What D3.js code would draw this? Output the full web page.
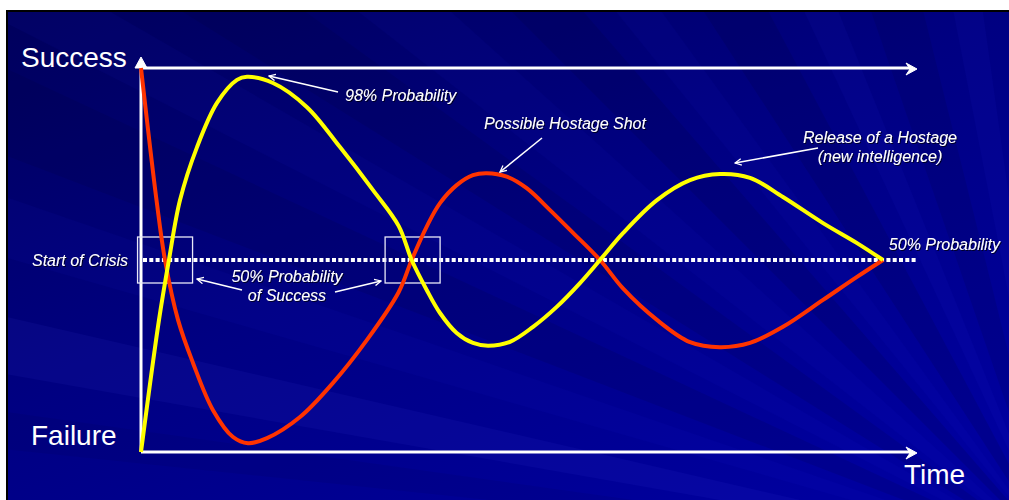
<!DOCTYPE html>
<html><head><meta charset="utf-8">
<script src="https://cdn.jsdelivr.net/npm/d3@7"></script>
<style>
html,body{margin:0;padding:0;background:#fff;}
svg{display:block;}
text{font-family:"Liberation Sans",Arial,sans-serif;fill:#fff;}
</style></head>
<body>
<svg id="c" width="1009" height="500"></svg>
<script>
// ---- data ----
const axisLabels = ["Success", "Failure", "Time"];
const timeDomain = [0, 100];
const probDomain = [0, 100];
const midLevel = 50;

const yellowT = [0, 2.32, 3.6, 5.03, 7.22, 9.79, 12.37, 13.66, 17.01, 21.39, 25.64, 29.9, 33.2, 34.88, 36.82, 38.53, 40.68, 42.78, 44.72, 47.55, 50.52, 53.57, 56.57, 59.15, 62.11, 66.49, 70.75, 74.61, 78.48, 82.73, 87.89, 92.27, 95.62];
const yellowV = [0, 34.4, 50, 65.6, 79.4, 90.9, 96.9, 97.7, 96.1, 89.8, 79.4, 68.2, 58.9, 50, 42.2, 36.2, 31.0, 28.4, 27.7, 28.7, 32.6, 37.8, 44.0, 50, 57.0, 65.6, 70.8, 72.4, 71.4, 66.4, 59.6, 54.4, 50];

const redT = [0, 2.01, 3.09, 4.77, 6.7, 9.28, 11.86, 13.79, 16.24, 20.49, 24.74, 29.12, 33.2, 34.88, 36.82, 38.53, 40.68, 42.78, 44.55, 47.13, 49.7, 52.71, 55.71, 59.15, 62.11, 66.49, 70.75, 74.61, 78.48, 82.73, 87.89, 92.27, 95.62];
const redV = [100, 65.4, 50, 34.4, 23.2, 10.9, 3.9, 2.3, 3.6, 9.1, 18.0, 29.2, 41.6, 50, 58.7, 64.8, 69.5, 72.1, 72.6, 71.7, 68.7, 63.0, 57.0, 50, 42.6, 34.4, 28.6, 27.3, 28.4, 32.6, 39.6, 45.6, 50];

const crossingT = [3.1, 35.0];          // crossings marked with boxes
const annotationTexts = [
  ["98% Probability"],
  ["Possible Hostage Shot"],
  ["Release of a Hostage", "(new intelligence)"],
  ["50% Probability", "of Success"],
  ["Start of Crisis"],
  ["50% Probability"]
];

// ---- setup ----
const svg = d3.select("#c");
const W = 1009, H = 500;
const x = d3.scaleLinear().domain(timeDomain).range([141, 917]);
const y = d3.scaleLinear().domain(probDomain).range([452, 68]);

const defs = svg.append("defs");
const bg = defs.append("linearGradient").attr("id", "bg").attr("x1", 0).attr("y1", 0).attr("x2", 0.8).attr("y2", 1);
bg.append("stop").attr("offset", 0).attr("stop-color", "#00005c");
bg.append("stop").attr("offset", 0.5).attr("stop-color", "#000082");
bg.append("stop").attr("offset", 1).attr("stop-color", "#00009e");

const f = defs.append("filter").attr("id", "sh").attr("x", "-10%").attr("y", "-30%").attr("width", "130%").attr("height", "160%");
f.append("feDropShadow").attr("dx", 1).attr("dy", 1).attr("stdDeviation", 0.6).attr("flood-color", "#000").attr("flood-opacity", 0.7);

defs.append("marker").attr("id", "open").attr("viewBox", "0 0 10 10").attr("refX", 9).attr("refY", 5)
  .attr("markerWidth", 8).attr("markerHeight", 8).attr("markerUnits", "userSpaceOnUse").attr("orient", "auto")
  .append("path").attr("d", "M1,1 L9,5 L1,9").attr("fill", "none").attr("stroke", "#fff").attr("stroke-width", 1.6);

// background
svg.append("rect").attr("x", 0).attr("y", 0).attr("width", W).attr("height", H).attr("fill", "#fff");
svg.append("rect").attr("x", 6).attr("y", 10).attr("width", W - 6).attr("height", H - 10).attr("fill", "#000");
svg.append("rect").attr("x", 8).attr("y", 12).attr("width", W - 8).attr("height", H - 12).attr("fill", "url(#bg)");

// rays from lower right
const clip = defs.append("clipPath").attr("id", "bgclip");
clip.append("rect").attr("x", 8).attr("y", 12).attr("width", W - 8).attr("height", H - 12);
const rays = svg.append("g").attr("clip-path", "url(#bgclip)");
const O = [1060, 560];
const rayDefs = [
  [196, 199, "#3030ff", 0.05], [201, 205, "#000030", 0.12], [207, 210, "#2a2aff", 0.05],
  [212, 216, "#000030", 0.12], [218, 222, "#2a2aff", 0.05], [225, 229, "#000030", 0.14],
  [231, 234, "#3030ff", 0.05], [237, 242, "#000030", 0.14], [245, 248, "#3030ff", 0.06],
  [251, 256, "#000030", 0.12], [259, 262, "#3a3aff", 0.06], [265, 270, "#000030", 0.1],
  [273, 276, "#4040ff", 0.05], [190, 193, "#5050ff", 0.07], [186, 188, "#000030", 0.08]
];
rayDefs.forEach(([a0, a1, c, o]) => {
  const R = 2000, r0 = a0 * Math.PI / 180, r1 = a1 * Math.PI / 180;
  rays.append("path")
    .attr("d", `M${O[0]},${O[1]} L${O[0] + R * Math.cos(r0)},${O[1] + R * Math.sin(r0)} L${O[0] + R * Math.cos(r1)},${O[1] + R * Math.sin(r1)} Z`)
    .attr("fill", c).attr("opacity", o);
});

// ---- axes ----
const gx = svg.append("g").attr("transform", `translate(0,${y(0)})`)
  .call(d3.axisBottom(x).tickValues([]).tickSizeOuter(0));
gx.select(".domain").attr("stroke", "#fff").attr("stroke-width", 3).attr("d", `M${x(0)},0H${x(100) - 6}`);
const gy = svg.append("g").attr("transform", `translate(${x(0)},0)`)
  .call(d3.axisLeft(y).tickValues([]).tickSizeOuter(0));
gy.select(".domain").attr("stroke", "#fff").attr("stroke-width", 3).attr("d", `M0,${y(0)}V${y(100) - 4}`);
svg.append("line").attr("x1", x(0)).attr("x2", x(100) - 6).attr("y1", y(100)).attr("y2", y(100))
  .attr("stroke", "#fff").attr("stroke-width", 3);

function arrowRight(px, py) {
  svg.append("path").attr("d", `M${px},${py} L${px - 11},${py - 6} L${px - 7},${py} L${px - 11},${py + 6} Z`)
    .attr("fill", "#fff").attr("stroke", "#fff").attr("stroke-width", 1).attr("stroke-linejoin", "round");
}
arrowRight(x(100), y(100) + 1);
arrowRight(x(100), y(0) + 1);
svg.append("path").attr("d", `M${x(0)},${y(100) - 11} L${x(0) + 6},${y(100)} L${x(0) - 6},${y(100)} Z`)
  .attr("fill", "#fff").attr("stroke", "#fff").attr("stroke-linejoin", "round");

// 50% dotted line
svg.append("line").attr("x1", x(0) + 2).attr("x2", x(100)).attr("y1", y(midLevel)).attr("y2", y(midLevel))
  .attr("stroke", "#fff").attr("stroke-width", 4).attr("stroke-dasharray", "4,2.3");

// crossing boxes
crossingT.forEach(t => {
  svg.append("rect").attr("x", x(t) - 27.5).attr("y", y(midLevel) - 23).attr("width", 55).attr("height", 46)
    .attr("fill", "none").attr("stroke", "#e8e8f8").attr("stroke-width", 1.3);
});

// ---- curves ----
const line = d3.line().x(d => x(d[0])).y(d => y(d[1])).curve(d3.curveCatmullRom.alpha(0.5));
const yellow = yellowT.map((t, i) => [t, yellowV[i]]);
const red = redT.map((t, i) => [t, redV[i]]);
svg.append("path").datum(red).attr("d", line).attr("fill", "none").attr("stroke", "#ff3300").attr("stroke-width", 4).attr("stroke-linejoin", "round");
svg.append("path").datum(yellow).attr("d", line).attr("fill", "none").attr("stroke", "#ffff00").attr("stroke-width", 4).attr("stroke-linejoin", "round");

// ---- labels ----
svg.append("text").attr("x", 21).attr("y", 67).attr("font-size", 28).text(axisLabels[0]);
svg.append("text").attr("x", 31).attr("y", 445).attr("font-size", 28).text(axisLabels[1]);
svg.append("text").attr("x", 904).attr("y", 484).attr("font-size", 28).text(axisLabels[2]);

const ann = svg.append("g").attr("font-style", "italic").attr("font-size", 16).attr("filter", "url(#sh)");
function label(lines, cx, by, anchor) {
  lines.forEach((s, i) => ann.append("text").attr("x", cx).attr("y", by + i * 19).attr("text-anchor", anchor || "middle").text(s));
}
label(annotationTexts[0], 345, 101, "start");
label(annotationTexts[1], 565, 129);
label(annotationTexts[2], 880, 143);
label(annotationTexts[3], 287, 282);
label(annotationTexts[4], 128, 266, "end");
label(annotationTexts[5], 1000, 250, "end");

const arrows = svg.append("g").attr("stroke", "#fff").attr("stroke-width", 1.6).attr("fill", "none");
function arrow(x1, y1, x2, y2) {
  arrows.append("line").attr("x1", x1).attr("y1", y1).attr("x2", x2).attr("y2", y2).attr("marker-end", "url(#open)");
}
arrow(338, 92, 269, 76);
arrow(542, 138, 500, 172);
arrow(818, 148, 735, 163);
arrow(242, 290, 197, 279);
arrow(335, 292, 381, 281);
</script>
</body></html>
